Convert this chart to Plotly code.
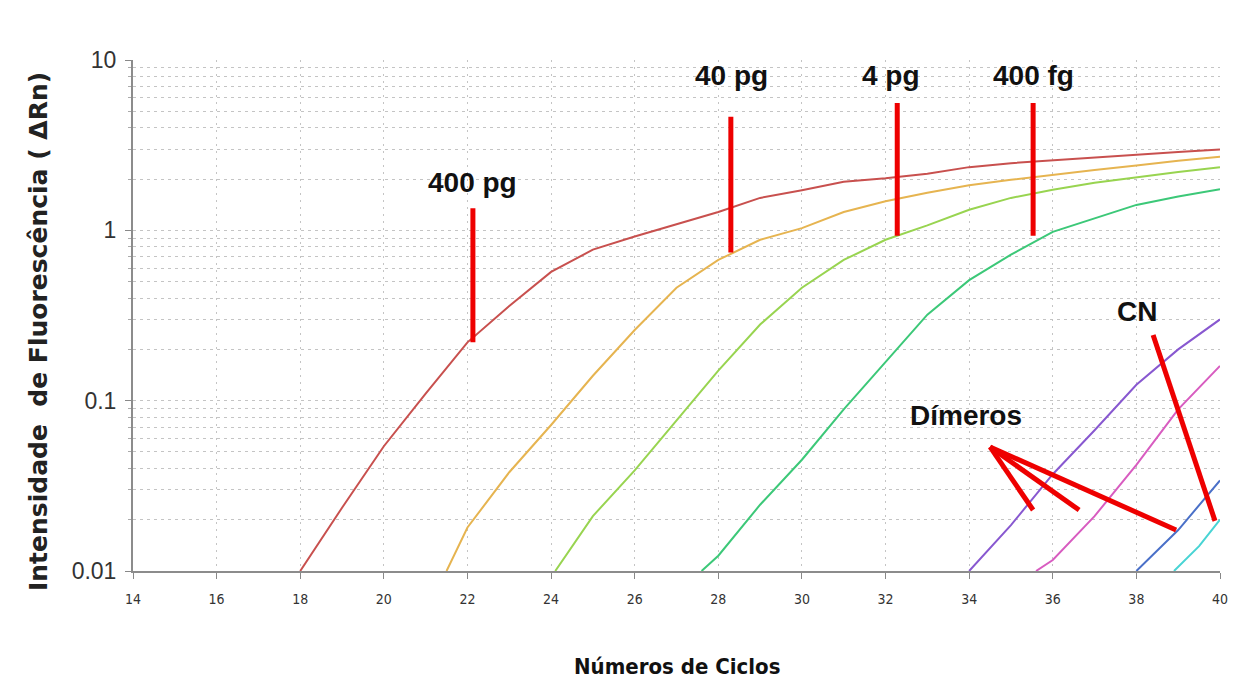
import math
import plotly.graph_objects as go

# ---------------- data ----------------
red_x = [18, 19, 20, 21, 22, 23, 24, 25, 26, 27, 28, 29, 30, 31, 32, 33, 34, 35, 36, 37, 38, 39, 40]
red_y = [0.010, 0.0235, 0.054, 0.11, 0.22, 0.36, 0.57, 0.77, 0.92, 1.08, 1.28, 1.55, 1.72, 1.93, 2.02,
         2.15, 2.35, 2.48, 2.58, 2.68, 2.78, 2.88, 2.98]

orange_x = [21.5, 22, 23, 24, 25, 26, 27, 28, 29, 30, 31, 32, 33, 34, 35, 36, 37, 38, 39, 40]
orange_y = [0.010, 0.018, 0.038, 0.072, 0.14, 0.26, 0.46, 0.67, 0.88, 1.03, 1.28, 1.48, 1.66, 1.84,
            1.98, 2.12, 2.26, 2.40, 2.56, 2.70]

lgreen_x = [24.1, 25, 26, 27, 28, 29, 30, 31, 32, 33, 34, 35, 36, 37, 38, 39, 40]
lgreen_y = [0.010, 0.021, 0.039, 0.077, 0.15, 0.28, 0.46, 0.67, 0.88, 1.07, 1.32, 1.55, 1.73, 1.90,
            2.05, 2.20, 2.35]

green_x = [27.6, 28, 29, 30, 31, 32, 33, 34, 35, 36, 37, 38, 39, 40]
green_y = [0.010, 0.0123, 0.0245, 0.045, 0.089, 0.17, 0.32, 0.51, 0.72, 0.98, 1.18, 1.41, 1.58, 1.74]

purple_x = [34, 35, 36, 37, 38, 39, 40]
purple_y = [0.010, 0.0186, 0.037, 0.067, 0.124, 0.20, 0.30]

pink_x = [35.6, 36, 37, 38, 39, 40]
pink_y = [0.010, 0.0116, 0.021, 0.042, 0.089, 0.16]

blue_x = [38, 39, 40]
blue_y = [0.010, 0.0174, 0.034]

cyan_x = [38.9, 39.5, 40]
cyan_y = [0.010, 0.014, 0.020]

x_ticks = [14, 16, 18, 20, 22, 24, 26, 28, 30, 32, 34, 36, 38, 40]
y_ticks = [0.01, 0.1, 1, 10]
y_ticklabels = ["0.01", "0.1", "1", "10"]

# annotation pointer lines (data units)
pointer_lines = [
    ([22.13, 22.13], [1.35, 0.22]),      # 400 pg
    ([28.30, 28.30], [4.65, 0.74]),      # 40 pg
    ([32.28, 32.28], [5.6, 0.93]),       # 4 pg
    ([35.53, 35.53], [5.6, 0.93]),       # 400 fg
    ([34.50, 35.53], [0.0535, 0.0228]),  # dímeros 1
    ([34.50, 36.63], [0.0535, 0.0228]),  # dímeros 2
    ([34.50, 38.95], [0.0535, 0.0174]),  # dímeros 3
    ([38.40, 39.88], [0.243, 0.0197]),   # CN
]

labels = [
    ("400 pg", 22.11, 1.90),
    ("40 pg", 28.31, 8.07),
    ("4 pg", 32.13, 8.07),
    ("400 fg", 35.53, 8.07),
    ("CN", 38.02, 0.332),
    ("Dímeros", 33.93, 0.0813),
]

series = [
    (red_x, red_y, "#c8504e"),
    (orange_x, orange_y, "#e6b450"),
    (lgreen_x, lgreen_y, "#98d450"),
    (green_x, green_y, "#3cc878"),
    (purple_x, purple_y, "#8858d0"),
    (pink_x, pink_y, "#d85cc0"),
    (blue_x, blue_y, "#4a70c8"),
    (cyan_x, cyan_y, "#48d4d4"),
]

fig = go.Figure()
for xs, ys, c in series:
    fig.add_trace(go.Scatter(x=xs, y=ys, mode="lines", line=dict(color=c, width=2),
                             showlegend=False, hoverinfo="skip"))

for xs, ys in pointer_lines:
    fig.add_trace(go.Scatter(x=xs, y=ys, mode="lines", line=dict(color="#ee0000", width=5),
                             showlegend=False, hoverinfo="skip"))

label_font = dict(family="Liberation Sans, Arial, sans-serif", size=28, color="#111111")
for txt, lx, ly in labels:
    fig.add_annotation(x=lx, y=math.log10(ly), xref="x", yref="y", text="<b>%s</b>" % txt,
                       showarrow=False, font=label_font, xanchor="center", yanchor="middle")

minor_vals = [m * 10 ** e for e in (-2, -1, 0) for m in range(1, 10)] + [10]

narrow = "Liberation Sans Narrow, DejaVu Sans Condensed, sans-serif"

fig.update_xaxes(
    range=[14, 40], tickvals=x_ticks, ticks="outside", ticklen=6, tickcolor="#888888",
    showline=True, linecolor="#8c8c8c", linewidth=2,
    showgrid=True, gridcolor="#c4c4c4", griddash="2px,5px", gridwidth=1,
    tickfont=dict(family=narrow, size=14, color="#333333"),
    ticklabelstandoff=8,
    zeroline=False,
)
fig.update_yaxes(
    type="log", range=[-2, 1], tickvals=y_ticks, ticktext=y_ticklabels,
    ticks="outside", ticklen=6, tickcolor="#888888",
    showline=True, linecolor="#8c8c8c", linewidth=2,
    showgrid=False,
    minor=dict(tickvals=minor_vals, showgrid=True, gridcolor="#c4c4c4", griddash="3px,4px",
               gridwidth=1, ticks="outside", ticklen=3, tickcolor="#aaaaaa"),
    tickfont=dict(family="Liberation Sans, Arial, sans-serif", size=23, color="#333333"),
    ticklabelstandoff=4,
    zeroline=False,
)

# axis titles as annotations
fig.add_annotation(
    text="<b>Intensidade  de Fluorescência ( ΔRn)</b>", textangle=-90,
    x=-95 / 1087, xref="paper", y=(571 - 332) / 511, yref="paper", showarrow=False,
    xanchor="center", yanchor="middle",
    font=dict(family="DejaVu Sans, Verdana, sans-serif", size=25, color="#222222"),
)
fig.add_annotation(
    text="<b>Números de Ciclos</b>", x=0.5, xref="paper", y=-95 / 511, yref="paper",
    showarrow=False, yanchor="middle", xanchor="center",
    font=dict(family=narrow, size=22, color="#111111"),
)

fig.update_layout(
    width=1244, height=681,
    margin=dict(l=133, r=24, t=60, b=110),
    paper_bgcolor="white", plot_bgcolor="white",
    showlegend=False,
)

fig.write_html("out.html", config={"displayModeBar": False},
               post_script="document.body.style.margin='0px';")
